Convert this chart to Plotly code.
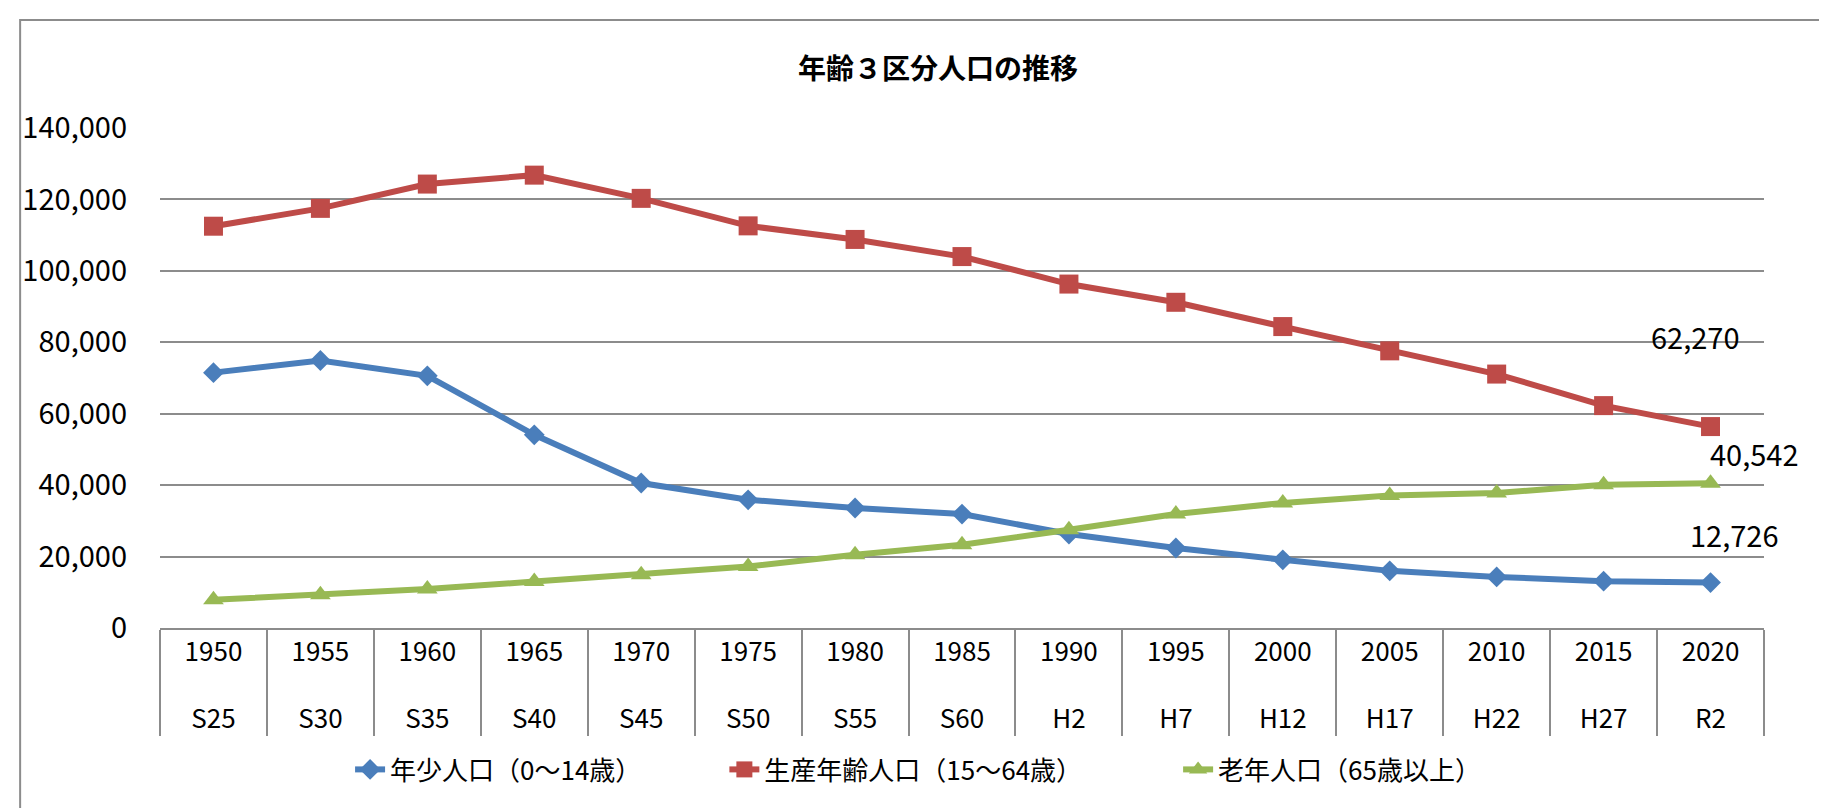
import plotly.graph_objects as go

years = ["1950", "1955", "1960", "1965", "1970", "1975", "1980", "1985",
         "1990", "1995", "2000", "2005", "2010", "2015", "2020"]
eras = ["S25", "S30", "S35", "S40", "S45", "S50", "S55", "S60",
        "H2", "H7", "H12", "H17", "H22", "H27", "R2"]

young = [71500, 74900, 70600, 54100, 40600, 35900, 33600, 31900,
         26300, 22400, 19100, 16000, 14300, 13100, 12726]
working = [112500, 117500, 124300, 126800, 120300, 112600, 108800, 104000,
           96300, 91200, 84400, 77600, 71100, 62270, 56400]
elderly = [7900, 9300, 10900, 13000, 14900, 17200, 20500, 23300,
           27500, 31900, 35000, 37100, 37800, 40100, 40542]

FONT = "Noto Sans CJK JP"
# a tiny second line under each year pushes the era row further down
year_txt = [y + "<br><span style='font-size:4px'>&nbsp;</span>" for y in years]
x = [eras, year_txt]

fig = go.Figure()
fig.add_trace(go.Scatter(x=x, y=young, mode='lines+markers',
                         name='年少人口（0～14歳）' + '\u3000' * 3 + '\u2002',
                         line=dict(color='#4A7EBB', width=6),
                         marker=dict(symbol='diamond', size=16, color='#4A7EBB')))
fig.add_trace(go.Scatter(x=x, y=working, mode='lines+markers',
                         name='生産年齢人口（15～64歳）' + '\u3000' * 4,
                         line=dict(color='#BE4B48', width=6),
                         marker=dict(symbol='square', size=19, color='#BE4B48')))
fig.add_trace(go.Scatter(x=x, y=elderly, mode='lines+markers', name='老年人口（65歳以上）',
                         line=dict(color='#98B954', width=6),
                         marker=dict(symbol='triangle-up', size=18, color='#98B954')))

# data labels, offset in pixels from their points
labels = [(13, working[13], 92, -70), (14, elderly[14], 44, -30), (14, young[14], 24, -49)]
for i, v, dx, dy in labels:
    fig.add_annotation(x=i, y=v, text=f"{v:,}", showarrow=False, xshift=dx, yshift=-dy,
                       font=dict(family=FONT, size=29, color='#000000'))

# outer chart border (left and top visible)
fig.add_shape(type='rect', xref='paper', yref='paper', x0=-0.0872, x1=1.2, y0=-0.6, y1=1.216,
              line=dict(color='#8c8c8c', width=2))

fig.update_layout(
    width=1827, height=808,
    paper_bgcolor='white', plot_bgcolor='white',
    margin=dict(l=152, r=71, t=120, b=188, autoexpand=False),
    font=dict(family=FONT, size=26, color='#000000'),
    title=dict(text='<b>年齢３区分人口の推移</b>', x=0.509, y=1 - 61 / 808, xanchor='center', yanchor='middle',
               xref='container', yref='container', font=dict(family=FONT, size=28, color='#000000')),
    showlegend=True,
    legend=dict(orientation='h', x=0.1185, y=-0.283, xanchor='left', yanchor='middle',
                font=dict(family=FONT, size=26), tracegroupgap=0),
)
fig.update_xaxes(type='multicategory', range=[-0.5, 14.5], showgrid=False, showline=True,
                 linecolor='#8c8c8c', linewidth=2,
                 showdividers=True, dividercolor='#8c8c8c', dividerwidth=2,
                 tickfont=dict(family=FONT, size=26, color='#000000'))
fig.update_yaxes(range=[0, 140000], dtick=20000, tickformat=',', showgrid=True, gridcolor='#8c8c8c',
                 gridwidth=2, zeroline=False, showline=False, ticks='', ticklabelstandoff=32,
                 tickfont=dict(family=FONT, size=29, color='#000000'))

fig.write_html("out.html")
